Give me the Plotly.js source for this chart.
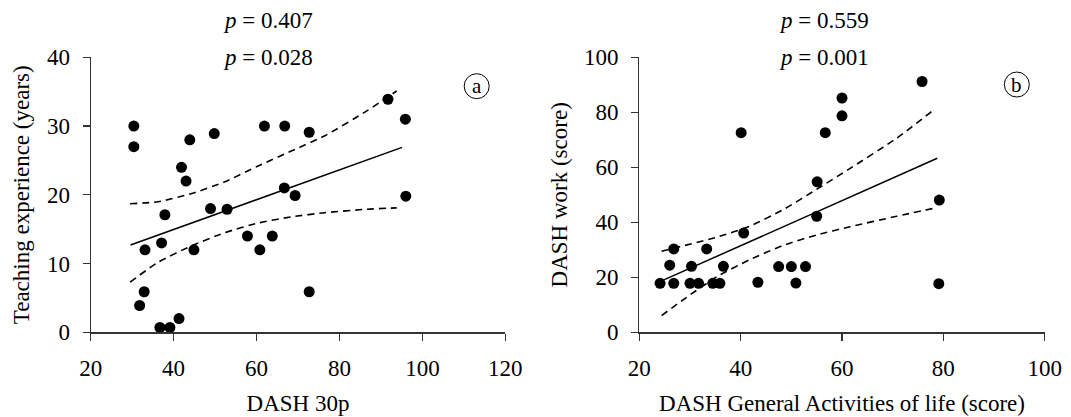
<!DOCTYPE html>
<html>
<head>
<meta charset="utf-8">
<script src="https://cdn.plot.ly/plotly-3.0.1.min.js"></script>
<style>html,body{margin:0;padding:0;background:#fff}#chart{width:1071px;height:417px}</style>
</head>
<body>
<div id="chart"></div>
<script>
// Panel a: DASH 30p vs Teaching experience (years)
const aX = [30.4, 30.4, 41.9, 43.0, 43.9, 49.8, 61.9, 66.8, 72.7, 91.7, 95.9, 37.9, 48.9, 52.9, 66.7, 69.3, 96.0, 33.1, 37.1, 44.9, 57.8, 60.8, 63.8, 32.9, 31.8, 72.7, 36.7, 39.1, 41.3];
const aY = [30.0, 27.0, 24.0, 22.0, 28.0, 28.9, 30.0, 30.0, 29.1, 33.9, 31.0, 17.1, 18.0, 17.9, 21.0, 19.9, 19.8, 12.0, 13.0, 12.0, 14.0, 12.0, 14.0, 5.9, 3.9, 5.9, 0.7, 0.7, 2.0];
const aFitX = [29.6, 95.1];
const aFitY = [12.7, 26.9];
const aUpX = [29.5, 36.3, 44.4, 52.4, 60.4, 68.5, 76.5, 86.6, 93.8];
const aUpY = [18.7, 19.0, 20.2, 21.9, 24.2, 26.4, 28.6, 32.2, 35.1];
const aLoX = [29.5, 36.3, 44.4, 52.4, 60.4, 68.5, 76.5, 86.6, 93.8];
const aLoY = [7.3, 10.2, 12.6, 14.5, 15.9, 16.8, 17.4, 17.9, 18.1];

// Panel b: DASH General Activities of life vs DASH work
const bX = [24.1, 26.0, 26.8, 26.8, 30.3, 30.0, 31.7, 33.3, 34.5, 35.9, 36.6, 40.1, 40.6, 43.4, 47.5, 50.0, 50.9, 52.8, 55.1, 55.0, 56.7, 60.0, 60.0, 75.8, 79.2, 79.1];
const bY = [17.8, 24.4, 30.3, 17.8, 24.0, 17.8, 17.8, 30.3, 17.8, 17.8, 24.0, 72.6, 36.1, 18.2, 23.9, 23.9, 17.9, 23.9, 54.7, 42.2, 72.6, 85.2, 78.7, 91.2, 48.1, 17.7];
const bFitX = [24.4, 78.8];
const bFitY = [18.7, 63.3];
const bUpX = [24.4, 35.3, 41.8, 48.4, 55.0, 61.6, 70.8, 78.0];
const bUpY = [29.5, 34.6, 38.6, 44.6, 52.0, 59.6, 70.6, 80.7];
const bLoX = [24.4, 28.7, 35.3, 41.8, 48.4, 55.0, 61.6, 70.8, 78.4];
const bLoY = [6.1, 11.9, 20.2, 26.4, 31.6, 35.4, 38.4, 42.2, 45.2];

const aTicksX = [20, 40, 60, 80, 100, 120];
const aTicksY = [0, 10, 20, 30, 40];
const bTicksX = [20, 40, 60, 80, 100];
const bTicksY = [0, 20, 40, 60, 80, 100];

const FONT = 'Liberation Serif, Times New Roman, serif';
const FS = 23;
const dot = {color: '#000', size: 11};
const solid = {color: '#000', width: 1.5};
const dashed = {color: '#000', width: 1.6, dash: '7px,5px', shape: 'spline', smoothing: 0.6};

const traces = [
  {x: aX, y: aY, mode: 'markers', type: 'scatter', marker: dot, xaxis: 'x', yaxis: 'y'},
  {x: aFitX, y: aFitY, mode: 'lines', type: 'scatter', line: solid, xaxis: 'x', yaxis: 'y'},
  {x: aUpX, y: aUpY, mode: 'lines', type: 'scatter', line: dashed, xaxis: 'x', yaxis: 'y'},
  {x: aLoX, y: aLoY, mode: 'lines', type: 'scatter', line: dashed, xaxis: 'x', yaxis: 'y'},
  {x: bX, y: bY, mode: 'markers', type: 'scatter', marker: dot, xaxis: 'x2', yaxis: 'y2'},
  {x: bFitX, y: bFitY, mode: 'lines', type: 'scatter', line: solid, xaxis: 'x2', yaxis: 'y2'},
  {x: bUpX, y: bUpY, mode: 'lines', type: 'scatter', line: dashed, xaxis: 'x2', yaxis: 'y2'},
  {x: bLoX, y: bLoY, mode: 'lines', type: 'scatter', line: dashed, xaxis: 'x2', yaxis: 'y2'}
];

function axis(domain, range, ticks, title, anchor, standoff) {
  return {
    domain: domain, range: range, anchor: anchor,
    tickmode: 'array', tickvals: ticks, ticktext: ticks.map(String),
    showgrid: false, zeroline: false, showline: true,
    linecolor: '#333', linewidth: 1.2,
    ticks: 'outside', ticklen: 7, tickwidth: 1.2, tickcolor: '#333',
    ticklabelstandoff: 8,
    tickfont: {family: FONT, size: FS, color: '#000'},
    title: {text: title, font: {family: FONT, size: FS, color: '#000'}, standoff: standoff},
    fixedrange: true
  };
}

const yDom = [1 - 332.3 / 417, 1 - 57.3 / 417];
const layout = {
  width: 1071, height: 417,
  margin: {l: 0, r: 0, t: 0, b: 0},
  paper_bgcolor: '#fff', plot_bgcolor: '#fff',
  showlegend: false,
  font: {family: FONT, size: FS, color: '#000'},
  xaxis: axis([90.7 / 1071, 505.3 / 1071], [20, 120], aTicksX, 'DASH 30p', 'y', 14),
  yaxis: axis(yDom, [0, 40], aTicksY, 'Teaching experience (years)', 'x', 10),
  xaxis2: axis([639.3 / 1071, 1044.7 / 1071], [20, 100], bTicksX, 'DASH General Activities of life (score)', 'y2', 14),
  yaxis2: axis(yDom, [0, 100], bTicksY, 'DASH work (score)', 'x2', 10),
  annotations: [
    {xref: 'paper', yref: 'paper', x: 267.5 / 1071, y: 1 - 20 / 417, text: '<i>p</i> = 0.407', showarrow: false, xanchor: 'center', yanchor: 'middle', font: {family: FONT, size: FS, color: '#000'}},
    {xref: 'paper', yref: 'paper', x: 267.5 / 1071, y: 1 - 57 / 417, text: '<i>p</i> = 0.028', showarrow: false, xanchor: 'center', yanchor: 'middle', font: {family: FONT, size: FS, color: '#000'}},
    {xref: 'paper', yref: 'paper', x: 824 / 1071, y: 1 - 20 / 417, text: '<i>p</i> = 0.559', showarrow: false, xanchor: 'center', yanchor: 'middle', font: {family: FONT, size: FS, color: '#000'}},
    {xref: 'paper', yref: 'paper', x: 824 / 1071, y: 1 - 57 / 417, text: '<i>p</i> = 0.001', showarrow: false, xanchor: 'center', yanchor: 'middle', font: {family: FONT, size: FS, color: '#000'}},
    {xref: 'x', yref: 'y', x: 113.1, y: 35.8, text: 'a', showarrow: false, xanchor: 'center', yanchor: 'middle', font: {family: FONT, size: 21, color: '#000'}},
    {xref: 'x2', yref: 'y2', x: 94.5, y: 90.1, text: 'b', showarrow: false, xanchor: 'center', yanchor: 'middle', font: {family: FONT, size: 21, color: '#000'}}
  ],
  shapes: [
    {type: 'circle', xref: 'x', yref: 'y', xsizemode: 'pixel', ysizemode: 'pixel', xanchor: 113.1, yanchor: 35.8, x0: -12.5, x1: 12.5, y0: -12.5, y1: 12.5, line: {color: '#000', width: 1}},
    {type: 'circle', xref: 'x2', yref: 'y2', xsizemode: 'pixel', ysizemode: 'pixel', xanchor: 94.5, yanchor: 90.1, x0: -12.5, x1: 12.5, y0: -12.5, y1: 12.5, line: {color: '#000', width: 1}}
  ]
};

Plotly.newPlot('chart', traces, layout, {displayModeBar: false, staticPlot: true});
</script>
</body>
</html>
